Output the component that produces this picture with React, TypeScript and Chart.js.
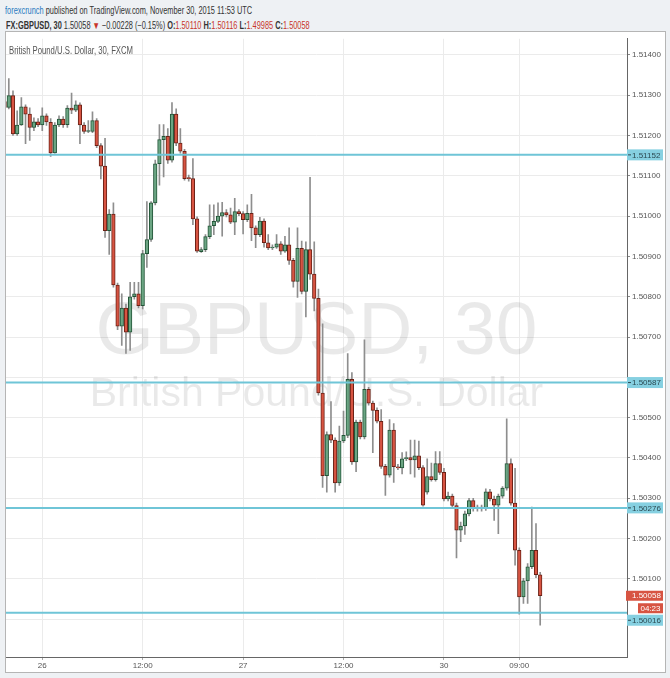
import { useEffect, useRef } from "react";
import { Chart, registerables } from "chart.js";

Chart.register(...registerables);

// GBPUSD 30-minute candles, 25 Nov 19:30 -> 30 Nov 11:30 (weekend gap removed)
const openPrices = [
  1.51284, 1.5127, 1.51299, 1.51204, 1.51226, 1.51271, 1.51253, 1.5122, 1.51234, 1.51226,
  1.51249, 1.51233, 1.51157, 1.51226, 1.51241, 1.51227, 1.51268, 1.51263, 1.51276, 1.51226,
  1.5121, 1.5121, 1.51237, 1.51175, 1.51124, 1.50964, 1.51005, 1.50829, 1.50727, 1.50772,
  1.50712, 1.508, 1.50807, 1.50778, 1.50907, 1.50942, 1.51033, 1.5113, 1.5119, 1.51198,
  1.51139, 1.51253, 1.51181, 1.51161, 1.51094, 1.51093, 1.50993, 1.50912, 1.50917, 1.50949,
  1.50976, 1.50987, 1.51, 1.51009, 1.51003, 1.50985, 1.51011, 1.51006, 1.50991, 1.51007,
  1.50971, 1.50954, 1.50988, 1.50934, 1.50921, 1.50923, 1.50931, 1.50913, 1.50929, 1.5089,
  1.50838, 1.5092, 1.50813, 1.50917, 1.50856, 1.50796, 1.50561, 1.50356, 1.50458, 1.50444,
  1.50338, 1.50442, 1.50456, 1.50595, 1.5039, 1.50489, 1.50452, 1.5057, 1.50536, 1.50518,
  1.50491, 1.50379, 1.50357, 1.50469, 1.50378, 1.50375, 1.50398, 1.50401, 1.50395, 1.50405,
  1.50376, 1.50315, 1.50354, 1.50346, 1.50386, 1.50364, 1.50298, 1.50305, 1.50282, 1.50221,
  1.50231, 1.50261, 1.50294, 1.50274, 1.50278, 1.50274, 1.50316, 1.50298, 1.50283, 1.50305,
  1.50325, 1.50386, 1.50288, 1.50171, 1.50055, 1.50095, 1.5013, 1.50171, 1.5011,
];
const highPrices = [
  1.51289, 1.51341, 1.51311, 1.51261, 1.51294, 1.51276, 1.51269, 1.51244, 1.51242, 1.51269,
  1.51254, 1.51242, 1.51232, 1.51249, 1.51247, 1.51274, 1.51305, 1.51286, 1.51281, 1.51232,
  1.51237, 1.51259, 1.51242, 1.5118, 1.51193, 1.51016, 1.51033, 1.50834, 1.50807, 1.50782,
  1.50836, 1.50836, 1.50836, 1.50915, 1.51036, 1.51036, 1.51139, 1.51227, 1.51227, 1.51217,
  1.51282, 1.51266, 1.51217, 1.51166, 1.51102, 1.51143, 1.50998, 1.50922, 1.50954, 1.51028,
  1.51028, 1.51033, 1.51034, 1.51016, 1.5102, 1.51044, 1.51016, 1.51011, 1.51028, 1.51054,
  1.50976, 1.50997, 1.50993, 1.50954, 1.50929, 1.50954, 1.50937, 1.5095, 1.50971, 1.50895,
  1.50971, 1.50938, 1.50936, 1.51096, 1.50936, 1.50819, 1.50733, 1.50465, 1.5054, 1.5045,
  1.50479, 1.50516, 1.50659, 1.50612, 1.50494, 1.50494, 1.50693, 1.50575, 1.50541, 1.50524,
  1.5052, 1.50384, 1.50495, 1.50485, 1.50384, 1.50413, 1.50415, 1.50444, 1.50444, 1.50442,
  1.50381, 1.50398, 1.50387, 1.50416, 1.50416, 1.50374, 1.50315, 1.5031, 1.50288, 1.50241,
  1.50268, 1.503, 1.503, 1.50283, 1.50283, 1.50323, 1.50322, 1.50305, 1.5031, 1.50329,
  1.50497, 1.50398, 1.50374, 1.50177, 1.50101, 1.50138, 1.50278, 1.50237, 1.50116,
];
const lowPrices = [
  1.51264, 1.51266, 1.512, 1.512, 1.51225, 1.5118, 1.51188, 1.51212, 1.51222, 1.51212,
  1.51225, 1.51148, 1.51156, 1.51222, 1.5122, 1.5122, 1.51254, 1.51259, 1.5118, 1.51205,
  1.51207, 1.51207, 1.5117, 1.51092, 1.50947, 1.50905, 1.50824, 1.50718, 1.50679, 1.50659,
  1.50667, 1.50794, 1.50772, 1.5077, 1.50873, 1.50937, 1.51028, 1.51077, 1.51097, 1.51131,
  1.51134, 1.51175, 1.51156, 1.51089, 1.51087, 1.50979, 1.5091, 1.5091, 1.50912, 1.50944,
  1.50954, 1.50984, 1.5095, 1.50998, 1.50981, 1.50954, 1.51001, 1.50956, 1.50986, 1.50939,
  1.50922, 1.50949, 1.50923, 1.50917, 1.50917, 1.5092, 1.50905, 1.5091, 1.5088, 1.50824,
  1.50798, 1.50807, 1.5075, 1.50843, 1.50765, 1.50556, 1.50327, 1.50315, 1.50438, 1.50315,
  1.50332, 1.50438, 1.5045, 1.50384, 1.50366, 1.50447, 1.50447, 1.50531, 1.50413, 1.50487,
  1.50374, 1.50307, 1.50352, 1.50339, 1.50371, 1.5036, 1.50393, 1.5036, 1.50352, 1.50371,
  1.5028, 1.5031, 1.50342, 1.50342, 1.50359, 1.50293, 1.50293, 1.50278, 1.50152, 1.50192,
  1.5021, 1.50256, 1.50268, 1.50268, 1.50268, 1.5027, 1.50293, 1.50245, 1.50212, 1.503,
  1.5032, 1.50283, 1.50134, 1.50012, 1.50039, 1.50039, 1.50125, 1.50103, 1.49985,
];
const closePrices = [
  1.5127, 1.51299, 1.51204, 1.51226, 1.51271, 1.51253, 1.5122, 1.51234, 1.51226, 1.51249,
  1.51234, 1.51157, 1.51226, 1.51241, 1.51227, 1.51268, 1.51263, 1.51276, 1.51226, 1.5121,
  1.51212, 1.51237, 1.51175, 1.51124, 1.50964, 1.51005, 1.50829, 1.50727, 1.50772, 1.50712,
  1.508, 1.50807, 1.50778, 1.50907, 1.50942, 1.51033, 1.5113, 1.5119, 1.51198, 1.51139,
  1.51253, 1.51181, 1.51161, 1.51093, 1.51093, 1.50993, 1.50913, 1.50917, 1.50949, 1.50976,
  1.50987, 1.51, 1.51009, 1.51003, 1.50985, 1.51011, 1.51006, 1.50991, 1.51007, 1.50971,
  1.50954, 1.50988, 1.50934, 1.50921, 1.50923, 1.50931, 1.50913, 1.50929, 1.5089, 1.50838,
  1.5092, 1.50813, 1.50917, 1.50856, 1.50796, 1.50561, 1.50356, 1.50458, 1.50444, 1.50338,
  1.50442, 1.50456, 1.50595, 1.5039, 1.50489, 1.50452, 1.5057, 1.50536, 1.50518, 1.50491,
  1.50379, 1.50357, 1.50469, 1.50378, 1.50375, 1.50398, 1.50401, 1.50395, 1.50405, 1.50376,
  1.50283, 1.50354, 1.50346, 1.50386, 1.50364, 1.50298, 1.50305, 1.50282, 1.50221, 1.50231,
  1.50261, 1.50294, 1.50274, 1.50278, 1.50274, 1.50316, 1.50298, 1.50283, 1.50305, 1.50325,
  1.50386, 1.50288, 1.50171, 1.50055, 1.50095, 1.5013, 1.50171, 1.5011, 1.50058,
];

// bar index of each time label on the x axis
const xTickIndex = [9, 33, 57, 81, 105, 123];
const xTickText = ["26", "12:00", "27", "12:00", "30", "09:00"];

// horizontal support / resistance lines
const levelLines = [1.51152, 1.50587, 1.50276, 1.50016];
const countdown = "04:23";

const UP = "#6ba583";
const UP_BORDER = "#225437";
const DOWN = "#d75442";
const DOWN_BORDER = "#6b2116";
const WICK = "#8e8e8e";
const LEVEL = "#6fc5d7";
const LEVEL_BOX = "#86d0e1";
const SANS = "'Liberation Sans', Arial, sans-serif";

const decor = {
  id: "decor",
  beforeDatasetsDraw(chart: any) {
    const { ctx, chartArea: a } = chart;
    ctx.save();
    ctx.beginPath();
    ctx.rect(a.left, a.top, a.right - a.left, a.bottom - a.top);
    ctx.clip();
    const cx = (a.left + a.right) / 2;
    ctx.fillStyle = "rgba(0,0,0,0.085)";
    ctx.textAlign = "center";
    ctx.textBaseline = "alphabetic";
    ctx.font = `75px ${SANS}`;
    ctx.fillText("GBPUSD, 30", cx, a.top + 315);
    ctx.font = `41px ${SANS}`;
    ctx.fillText("British Pound/U.S. Dollar", cx, a.top + 367);

    // pane title, squeezed to the narrow width of the original face
    const title = "British Pound/U.S. Dollar, 30, FXCM";
    ctx.fillStyle = "#555";
    ctx.textAlign = "left";
    ctx.textBaseline = "middle";
    ctx.font = `10px ${SANS}`;
    const w = ctx.measureText(title).width;
    ctx.translate(a.left + 3, a.top + 12.5);
    ctx.scale(124 / w, 1);
    ctx.fillText(title, 0, 0);
    ctx.restore();
  },
  afterDatasetsDraw(chart: any) {
    const { ctx, chartArea: a, scales } = chart;
    ctx.save();
    ctx.strokeStyle = LEVEL;
    ctx.lineWidth = 2;
    levelLines.forEach((lv) => {
      const py = scales.y.getPixelForValue(lv);
      ctx.beginPath();
      ctx.moveTo(a.left, py);
      ctx.lineTo(a.right, py);
      ctx.stroke();
    });
    ctx.restore();
  },
  afterDraw(chart: any) {
    const { ctx, chartArea: a, scales } = chart;
    const last = closePrices[closePrices.length - 1];
    const lastY = scales.y.getPixelForValue(last);
    const cdY = lastY + 12.5;
    ctx.save();
    ctx.font = `8px ${SANS}`;
    ctx.textBaseline = "middle";
    ctx.textAlign = "left";
    levelLines.forEach((lv) => {
      const py = scales.y.getPixelForValue(lv);
      let by = py;
      if (Math.abs(by - cdY) < 11) by = cdY + 12;
      ctx.fillStyle = LEVEL_BOX;
      ctx.fillRect(a.right, by - 5.5, 36, 11);
      ctx.fillStyle = "#2b4a52";
      ctx.fillRect(a.right + 1, by - 0.5, 3, 1);
      ctx.fillText(lv.toFixed(5), a.right + 5, by + 0.5);
    });
    ctx.fillStyle = DOWN;
    ctx.fillRect(a.right - 1, lastY - 5, 37, 10);
    ctx.fillRect(a.right + 11, cdY - 5, 25, 10);
    ctx.fillStyle = "#fff";
    ctx.fillText(last.toFixed(5), a.right + 5, lastY + 0.5);
    ctx.fillText(countdown, a.right + 13.5, cdY + 0.5);
    ctx.restore();
  },
};

export default function App() {
  const canvasRef = useRef<HTMLCanvasElement>(null);
  const line1Ref = useRef<HTMLSpanElement>(null);
  const line2Ref = useRef<HTMLSpanElement>(null);

  useEffect(() => {
    document.body.style.margin = "0";
    // the snapshot header uses a narrow face: fit each line to its original width
    const fit: [HTMLSpanElement | null, number][] = [
      [line1Ref.current, 247],
      [line2Ref.current, 304],
    ];
    fit.forEach(([el, target]) => {
      if (el) el.style.transform = `scaleX(${target / el.offsetWidth})`;
    });

    if (!canvasRef.current) return;
    const idx = closePrices.map((_, i) => i);
    const isUp = idx.map((i) => closePrices[i] >= openPrices[i]);

    const chart = new Chart(canvasRef.current, {
      type: "bar",
      data: {
        datasets: [
          {
            label: "wick",
            data: idx.map((i) => ({ x: i, y: [lowPrices[i], highPrices[i]] })) as any,
            backgroundColor: WICK,
            barThickness: 1,
            grouped: false,
            order: 2,
          },
          {
            label: "body",
            data: idx.map((i) => ({ x: i, y: [openPrices[i], closePrices[i]] })) as any,
            backgroundColor: isUp.map((u) => (u ? UP : DOWN)),
            borderColor: isUp.map((u) => (u ? UP_BORDER : DOWN_BORDER)),
            borderWidth: 1,
            borderSkipped: false,
            barThickness: 3.6,
            minBarLength: 1,
            grouped: false,
            order: 1,
          },
        ],
      },
      options: {
        animation: false,
        responsive: true,
        maintainAspectRatio: false,
        layout: { padding: 0 },
        plugins: {
          legend: { display: false },
          tooltip: { enabled: false },
        },
        scales: {
          x: {
            type: "linear",
            min: 0.33,
            max: 148.75,
            offset: false,
            afterBuildTicks: (s: any) => {
              s.ticks = xTickIndex.map((v) => ({ value: v }));
            },
            afterFit: (s: any) => {
              s.height = 15;
            },
            ticks: {
              autoSkip: false,
              maxRotation: 0,
              padding: 1,
              color: "#555",
              font: { size: 8, family: SANS },
              callback: (v: any) => xTickText[xTickIndex.indexOf(Number(v))] ?? "",
            },
            grid: { offset: false, color: "#ebebeb", tickLength: 3, tickColor: "#aaa" },
            border: { color: "#666" },
          },
          y: {
            position: "right",
            min: 1.49906,
            max: 1.5144,
            afterFit: (s: any) => {
              s.width = 38;
            },
            ticks: {
              stepSize: 0.001,
              maxTicksLimit: 30,
              includeBounds: false,
              padding: 2,
              color: "#555",
              font: { size: 8, family: SANS },
              callback: (v: any) =>
                levelLines.some((l) => Math.abs(l - Number(v)) < 0.0002) ? "" : Number(v).toFixed(5),
            },
            grid: { color: "#ebebeb", tickLength: 3, tickColor: "#888" },
            border: { color: "#666" },
          },
        },
      },
      plugins: [decor],
    });

    return () => chart.destroy();
  }, []);

  const red = { color: "#c8352a" };
  const lineStyle = {
    display: "inline-block",
    transformOrigin: "left center",
    fontSize: 10,
    lineHeight: "14px",
    whiteSpace: "nowrap" as const,
  };
  return (
    <div
      style={{
        position: "relative",
        width: 670,
        height: 678,
        background: "#eef1f4",
        fontFamily: SANS,
        color: "#333",
        overflow: "hidden",
      }}
    >
      <div style={{ position: "absolute", left: 5, top: 0 }}>
        <span ref={line1Ref} style={lineStyle}>
          <span style={{ color: "#2a7ac0" }}>forexcrunch</span> published on TradingView.com, November 30, 2015 11:53 UTC
        </span>
      </div>
      <div style={{ position: "absolute", left: 6, top: 15 }}>
        <span ref={line2Ref} style={lineStyle}>
          <b>FX:GBPUSD, 30</b> 1.50058 <span style={red}>▼</span> −0.00228 (−0.15%) <b>O:</b>
          <span style={red}>1.50110</span> <b>H:</b>
          <span style={red}>1.50116</span> <b>L:</b>
          <span style={red}>1.49985</span> <b>C:</b>
          <span style={red}>1.50058</span>
        </span>
      </div>
      <div
        style={{
          position: "absolute",
          left: 5,
          top: 31,
          width: 659,
          height: 640,
          border: "1px solid #b5b5b5",
          background: "#fff",
        }}
      >
        <div style={{ position: "relative", width: 659, height: 640 }}>
          <canvas ref={canvasRef}></canvas>
        </div>
      </div>
    </div>
  );
}
